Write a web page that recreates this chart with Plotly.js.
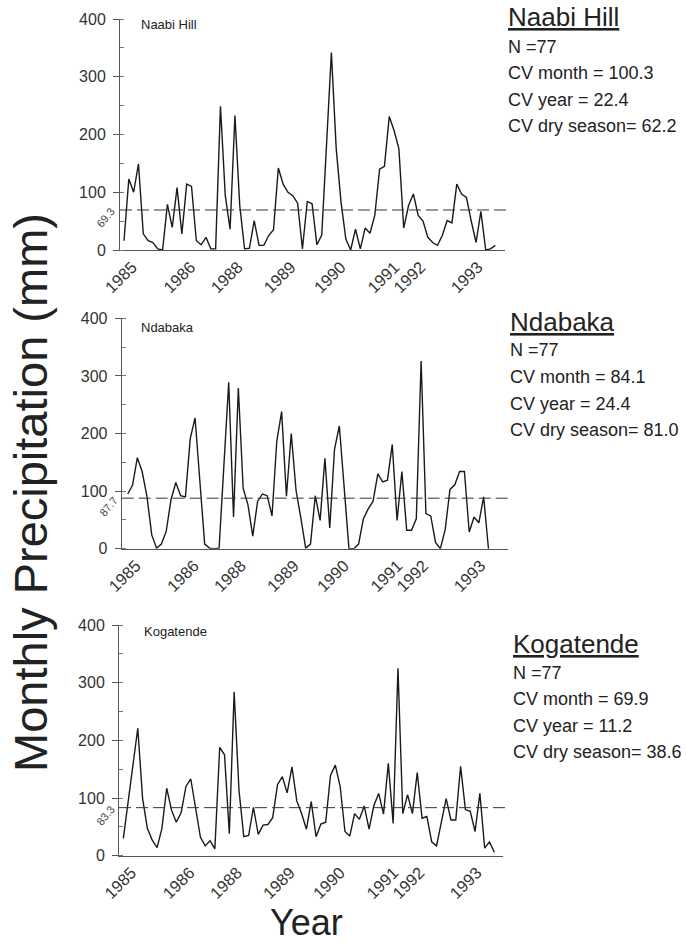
<!DOCTYPE html>
<html><head><meta charset="utf-8">
<script src="https://cdn.plot.ly/plotly-3.0.1.min.js"></script>
<style>html,body{margin:0;padding:0;background:#fff}#chart{width:686px;height:942px}</style>
</head><body><div id="chart"></div>
<script>
// ---- data ----
const stations = ['Naabi Hill', 'Ndabaka', 'Kogatende'];
const naabiHill = [16,123,100,149,28,16,13,2,0,79,39,108,28,114,110,16,9,22,2,2,249,94,36,233,77,2,3,51,8,8,25,35,142,114,100,94,81,2,84,80,9,26,183,342,176,83,19,0,36,2,38,29,60,140,145,231,207,175,38,77,97,60,50,22,13,8,25,51,47,114,97,91,50,13,67,0,2,8];
const ndabaka = [95,110,158,134,91,24,1,8,30,85,115,92,90,191,227,110,8,1,0,1,145,289,55,279,105,76,22,82,95,92,57,187,238,91,200,101,53,1,8,92,49,157,36,173,213,105,0,0,8,52,69,82,130,116,119,181,49,134,32,32,52,326,61,57,11,0,33,103,111,134,134,29,55,45,90,0];
const kogatende = [30,92,158,221,99,47,27,14,47,117,79,58,75,120,133,82,32,17,26,12,188,175,38,284,114,33,35,84,37,53,54,66,123,137,109,154,95,73,46,94,33,55,58,139,157,120,42,34,73,63,86,46,87,108,72,160,56,325,73,106,73,144,65,68,24,17,57,99,62,62,155,80,77,42,108,13,24,6];
const meanValues = [69.3, 87.7, 83.3];
const nValues = [77, 77, 77];
const cvMonth = ['100.3', '84.1', '69.9'];
const cvYear = ['22.4', '24.4', '11.2'];
const cvDrySeason = ['62.2', '81.0', '38.6'];
const yearLabels = ['1985','1986','1988','1989','1990','1991','1992','1993'];
const yearTickIndex = [1.7, 13.8, 23.6, 34.6, 45.0, 56.1, 61.5, 73.4];
const yTickVals = [0, 100, 200, 300, 400];
const series = [naabiHill, ndabaka, kogatende];

// ---- layout helpers (pixel -> paper) ----
const W = 686, H = 942;
const px = v => v / W;
const py = v => 1 - v / H;
const FONT = 'Liberation Sans, Arial, sans-serif';

const panels = [
  {xd:[120,505],   yd:[19,250],    xr:[-0.83,79.0], tx:506,   ty:[17,46.5,73,99.5,125.5], lab:[139,25],  ml:[105,218]},
  {xd:[121.7,507.7], yd:[318.3,548.7], xr:[-1.25,79.0], tx:508, ty:[322,350,377,404,430], lab:[139,327], ml:[108,507]},
  {xd:[119,503],   yd:[625,855.7], xr:[-0.9,78.8],  tx:511,   ty:[644,673,699,726,752],   lab:[142,631], ml:[105,816]}
];

const traces = [];
const layout = {
  width: W, height: H,
  margin: {l:0, r:0, t:0, b:0},
  paper_bgcolor: '#fff', plot_bgcolor: '#fff',
  showlegend: false,
  font: {family: FONT, color: '#222'},
  shapes: [], annotations: []
};

panels.forEach((p, k) => {
  const sfx = k === 0 ? '' : String(k + 1);
  const data = series[k];
  traces.push({
    type: 'scatter', mode: 'lines',
    x: data.map((_, i) => i), y: data,
    xaxis: 'x' + sfx, yaxis: 'y' + sfx,
    line: {color: '#1a1a1a', width: 1.4},
    hoverinfo: 'skip'
  });
  layout['xaxis' + sfx] = {
    domain: [px(p.xd[0]), px(p.xd[1])],
    range: p.xr, anchor: 'y' + sfx,
    showline: true, linecolor: '#555', linewidth: 1,
    showgrid: false, zeroline: false,
    tickmode: 'array', tickvals: yearTickIndex, ticktext: yearLabels,
    tickangle: -45, ticks: '',
    tickfont: {family: FONT, size: 16.5, color: '#333'}
  };
  layout['yaxis' + sfx] = {
    domain: [py(p.yd[1]), py(p.yd[0])],
    range: [0, 400], anchor: 'x' + sfx,
    showline: true, linecolor: '#555', linewidth: 1,
    showgrid: false, zeroline: false,
    tickmode: 'array', tickvals: yTickVals,
    ticks: 'outside', ticklen: 6, tickcolor: '#555', ticklabelstandoff: 4,
    minor: {dtick: 50, tick0: 0, ticks: 'inside', ticklen: 4, tickcolor: '#777'},
    tickfont: {family: FONT, size: 16, color: '#333'}
  };
  layout.shapes.push({
    type: 'line', xref: 'x' + sfx + ' domain', yref: 'y' + sfx,
    x0: 0, x1: 1.012, y0: meanValues[k], y1: meanValues[k],
    line: {color: '#333', width: 1, dash: '12px,5px'}
  });
  // station label inside the plot
  layout.annotations.push({
    xref: 'paper', yref: 'paper', x: px(p.lab[0]), y: py(p.lab[1]),
    xanchor: 'left', yanchor: 'middle', showarrow: false,
    text: stations[k], font: {family: FONT, size: 13, color: '#222'}
  });
  // mean value label
  layout.annotations.push({
    xref: 'paper', yref: 'paper', x: px(p.ml[0]), y: py(p.ml[1]),
    xanchor: 'center', yanchor: 'middle', showarrow: false, textangle: -50,
    text: meanValues[k].toFixed(1), font: {family: FONT, size: 11, color: '#444'}
  });
  // statistics block
  const lines = [
    {t: '<u>' + stations[k] + '</u>', s: 26},
    {t: 'N =' + nValues[k], s: 18},
    {t: 'CV month = ' + cvMonth[k], s: 18},
    {t: 'CV year = ' + cvYear[k], s: 18},
    {t: 'CV dry season= ' + cvDrySeason[k], s: 18}
  ];
  lines.forEach((ln, j) => {
    layout.annotations.push({
      xref: 'paper', yref: 'paper', x: px(p.tx), y: py(p.ty[j]),
      xanchor: 'left', yanchor: 'middle', showarrow: false,
      text: ln.t, font: {family: FONT, size: ln.s, color: '#222'}
    });
  });
});

// axis titles
layout.annotations.push({
  xref: 'paper', yref: 'paper', x: px(30), y: py(493),
  xanchor: 'center', yanchor: 'middle', showarrow: false, textangle: -90,
  text: 'Monthly Precipitation (mm)', font: {family: FONT, size: 47, color: '#222'}
});
layout.annotations.push({
  xref: 'paper', yref: 'paper', x: px(306), y: py(922),
  xanchor: 'center', yanchor: 'middle', showarrow: false,
  text: 'Year', font: {family: FONT, size: 36, color: '#222'}
});

Plotly.newPlot('chart', traces, layout, {staticPlot: true, displayModeBar: false});
</script>
</body></html>
